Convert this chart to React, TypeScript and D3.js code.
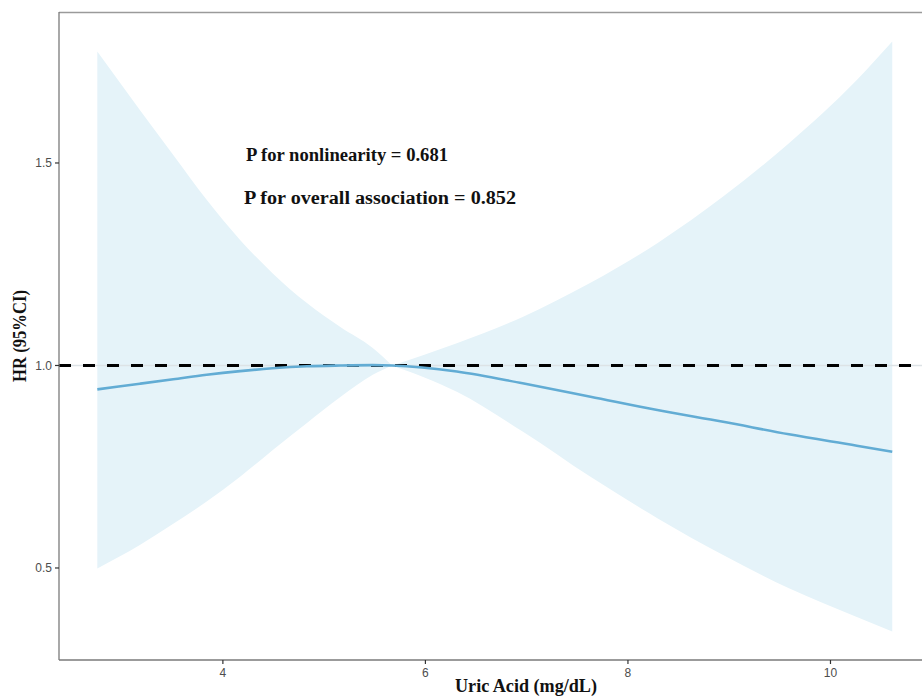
import React from "react";
import * as d3 from "d3";

// RCS curve: uric acid vs hazard ratio with 95% CI
const uricAcid = [2.76, 3.18, 3.51, 3.84, 4.17, 4.49, 4.83, 5.16, 5.48, 5.67, 6.31, 6.96, 7.63, 8.29, 8.94, 9.59, 10.26, 10.61];
const hr = [0.941, 0.955, 0.966, 0.977, 0.986, 0.993, 0.998, 1.0, 1.001, 1.0, 0.985, 0.956, 0.923, 0.89, 0.861, 0.83, 0.802, 0.787];
const lower = [0.499, 0.557, 0.609, 0.664, 0.725, 0.791, 0.858, 0.922, 0.977, 1.0, 0.935, 0.837, 0.725, 0.623, 0.532, 0.45, 0.379, 0.343];
const upper = [1.775, 1.631, 1.52, 1.409, 1.31, 1.228, 1.154, 1.095, 1.043, 1.0, 1.055, 1.12, 1.204, 1.302, 1.417, 1.549, 1.705, 1.8];
const pinch = 5.67; // reference value, CI collapses here

const xTicks = [4, 6, 8, 10];
const yTicks = [0.5, 1.0, 1.5];
const pLabels = ["P for nonlinearity = 0.681", "P for overall association = 0.852"];

const W = 922;
const H = 699;
const margin = { top: 12, left: 59, bottom: 39 };

export default function App() {
  const x = d3.scaleLinear().domain([2.3817, 11.0]).range([margin.left, 931.75]);
  const y = d3.scaleLinear().domain([0.2728, 1.8728]).range([H - margin.bottom, margin.top]);

  const rows = uricAcid.map((u, i) => ({ u, hr: hr[i], lo: lower[i], hi: upper[i] }));
  // split the band at the pinch so the curve keeps its sharp waist
  const leftRows = rows.filter((d) => d.u <= pinch);
  const rightRows = rows.filter((d) => d.u >= pinch);

  const band = d3
    .area<any>()
    .x((d) => x(d.u))
    .y0((d) => y(d.lo))
    .y1((d) => y(d.hi))
    .curve(d3.curveMonotoneX);

  const line = d3
    .line<any>()
    .x((d) => x(d.u))
    .y((d) => y(d.hr))
    .curve(d3.curveMonotoneX);

  const bottom = H - margin.bottom;
  const serif = "'Liberation Serif', 'DejaVu Serif', serif";
  const sans = "'Liberation Sans', Arial, sans-serif";

  return (
    <div style={{ position: "absolute", left: 0, top: 0 }}>
      <svg width={W} height={H} style={{ display: "block", background: "#fff" }}>
        {/* CI band */}
        <path d={band(leftRows) || ""} fill="#e5f3f9" stroke="none" />
        <path d={band(rightRows) || ""} fill="#e5f3f9" stroke="none" />

        {/* reference line at HR = 1 */}
        <line x1={margin.left} x2={W} y1={y(1)} y2={y(1)} stroke="#dde3e6" strokeWidth={1.5} />
        <line
          x1={margin.left}
          x2={W}
          y1={y(1)}
          y2={y(1)}
          stroke="#000"
          strokeWidth={3}
          strokeDasharray="12,12"
        />

        {/* HR curve */}
        <path d={line(rows) || ""} fill="none" stroke="#62acd4" strokeWidth={2.6} />

        {/* panel: top border + axes */}
        <line x1={margin.left} x2={W} y1={margin.top + 0.5} y2={margin.top + 0.5} stroke="#9a9a9a" strokeWidth={1.3} />
        <line x1={margin.left} x2={margin.left} y1={margin.top} y2={bottom} stroke="#7a7a7a" strokeWidth={1.3} />
        <line x1={margin.left} x2={W} y1={bottom} y2={bottom} stroke="#7a7a7a" strokeWidth={1.3} />

        {yTicks.map((t) => (
          <g key={t}>
            <line x1={margin.left - 4} x2={margin.left} y1={y(t)} y2={y(t)} stroke="#333" strokeWidth={1.2} />
            <text
              x={margin.left - 7}
              y={y(t)}
              dy="0.35em"
              textAnchor="end"
              fontFamily={sans}
              fontSize={12}
              fill="#4d4d4d"
            >
              {t.toFixed(1)}
            </text>
          </g>
        ))}

        {xTicks.map((t) => (
          <g key={t}>
            <line x1={x(t)} x2={x(t)} y1={bottom} y2={bottom + 4} stroke="#333" strokeWidth={1.2} />
            <text x={x(t)} y={bottom + 17} textAnchor="middle" fontFamily={sans} fontSize={12} fill="#4d4d4d">
              {t}
            </text>
          </g>
        ))}

        {/* axis titles */}
        <text
          x={455}
          y={692}
          fontFamily={serif}
          fontWeight="bold"
          fontSize={18}
          fill="#111"
          textLength={142}
          lengthAdjust="spacingAndGlyphs"
        >
          Uric Acid (mg/dL)
        </text>
        <text
          transform={`translate(26, ${(margin.top + bottom) / 2}) rotate(-90)`}
          x={-46}
          fontFamily={serif}
          fontWeight="bold"
          fontSize={18}
          fill="#111"
          textLength={92}
          lengthAdjust="spacingAndGlyphs"
        >
          HR (95%CI)
        </text>

        {/* p-value annotations */}
        <text
          x={246}
          y={161}
          fontFamily={serif}
          fontWeight="bold"
          fontSize={18}
          fill="#111"
          textLength={202}
          lengthAdjust="spacingAndGlyphs"
        >
          {pLabels[0]}
        </text>
        <text
          x={244}
          y={204}
          fontFamily={serif}
          fontWeight="bold"
          fontSize={18}
          fill="#111"
          textLength={272}
          lengthAdjust="spacingAndGlyphs"
        >
          {pLabels[1]}
        </text>
      </svg>
    </div>
  );
}
